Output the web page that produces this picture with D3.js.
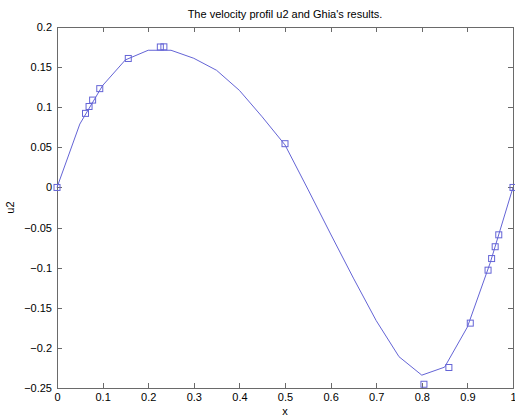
<!DOCTYPE html>
<meta charset="utf-8">
<style>
body { margin: 0; background: #fff; }
text { font-family: "Liberation Sans", Arial, sans-serif; font-size: 11px; fill: #000; }
.axis path, .axis line { stroke: #6a6a6a; shape-rendering: crispEdges; }
</style>
<svg width="515" height="419"></svg>
<script src="https://cdn.jsdelivr.net/npm/d3@7"></script>
<script>
// computed profile u2 along the centre line
var gridX = [0, 0.05, 0.1, 0.15, 0.2, 0.25, 0.3, 0.35, 0.4, 0.45, 0.5, 0.55, 0.6, 0.65, 0.7, 0.75, 0.8, 0.85, 0.9, 0.95, 1];
var u2 = [0, 0.079, 0.127, 0.159, 0.171, 0.171, 0.161, 0.146, 0.121, 0.088, 0.053, -0.002, -0.058, -0.113, -0.166, -0.211, -0.234, -0.224, -0.174, -0.094, 0];

// Ghia's results
var ghiaX = [0, 0.0625, 0.0703, 0.0781, 0.0938, 0.1563, 0.2266, 0.2344, 0.5, 0.8047, 0.8594, 0.9063, 0.9453, 0.9531, 0.9609, 0.9688, 1];
var ghiaV = [0, 0.09233, 0.10091, 0.1089, 0.12317, 0.16077, 0.17507, 0.17527, 0.05454, -0.24533, -0.22445, -0.16914, -0.10313, -0.08864, -0.07391, -0.05906, 0];

var xTicks = [0, 0.1, 0.2, 0.3, 0.4, 0.5, 0.6, 0.7, 0.8, 0.9, 1];
var yTicks = [-0.25, -0.2, -0.15, -0.1, -0.05, 0, 0.05, 0.1, 0.15, 0.2];

var svg = d3.select("svg"),
    margin = {top: 27, right: 2, bottom: 31, left: 57},
    width = +svg.attr("width") - margin.left - margin.right,
    height = +svg.attr("height") - margin.top - margin.bottom;

var x = d3.scaleLinear().domain([0, 1]).range([0, width]);
var y = d3.scaleLinear().domain([-0.25, 0.2]).range([height, 0]);

var g = svg.append("g")
    .attr("transform", "translate(" + margin.left + "," + margin.top + ")");

var col = "#6464d6";

g.append("g")
    .attr("class", "axis")
    .attr("transform", "translate(0," + height + ")")
    .call(d3.axisBottom(x).tickValues(xTicks).tickSizeInner(-5).tickSizeOuter(0).tickPadding(5)
      .tickFormat(function(d) { return d3.format("")(d); }));
g.append("g")
    .attr("class", "axis")
    .call(d3.axisTop(x).tickValues(xTicks).tickSizeInner(-5).tickSizeOuter(0).tickFormat(""));
g.append("g")
    .attr("class", "axis")
    .call(d3.axisLeft(y).tickValues(yTicks).tickSizeInner(-5).tickSizeOuter(0).tickPadding(5)
      .tickFormat(function(d) { return d3.format("")(d); }));
g.append("g")
    .attr("class", "axis")
    .attr("transform", "translate(" + width + ",0)")
    .call(d3.axisRight(y).tickValues(yTicks).tickSizeInner(-5).tickSizeOuter(0).tickFormat(""));

g.selectAll(".axis text").style("font-family", "Liberation Sans, Arial, sans-serif").style("font-size", "11px").attr("fill", "#000");
g.selectAll(".axis .domain").attr("stroke", "#6a6a6a");

var line = d3.line()
    .x(function(d, i) { return x(gridX[i]); })
    .y(function(d) { return y(d); });

g.append("path")
    .datum(u2)
    .attr("fill", "none")
    .attr("stroke", col)
    .attr("stroke-width", 1)
    .attr("d", line);

g.selectAll(".mk")
    .data(ghiaV)
  .enter().append("rect")
    .attr("class", "mk")
    .attr("x", function(d, i) { return x(ghiaX[i]) - 3; })
    .attr("y", function(d) { return y(d) - 3; })
    .attr("width", 6)
    .attr("height", 6)
    .attr("fill", "none")
    .attr("stroke", col)
    .attr("stroke-width", 1);

svg.append("text")
    .attr("x", margin.left + width / 2)
    .attr("y", 18)
    .attr("text-anchor", "middle")
    .text("The velocity profil u2 and Ghia's results.");

svg.append("text")
    .attr("x", margin.left + width / 2)
    .attr("y", 415)
    .attr("text-anchor", "middle")
    .text("x");

svg.append("text")
    .attr("transform", "translate(14," + (margin.top + height / 2) + ") rotate(-90)")
    .attr("text-anchor", "middle")
    .text("u2");
</script>
